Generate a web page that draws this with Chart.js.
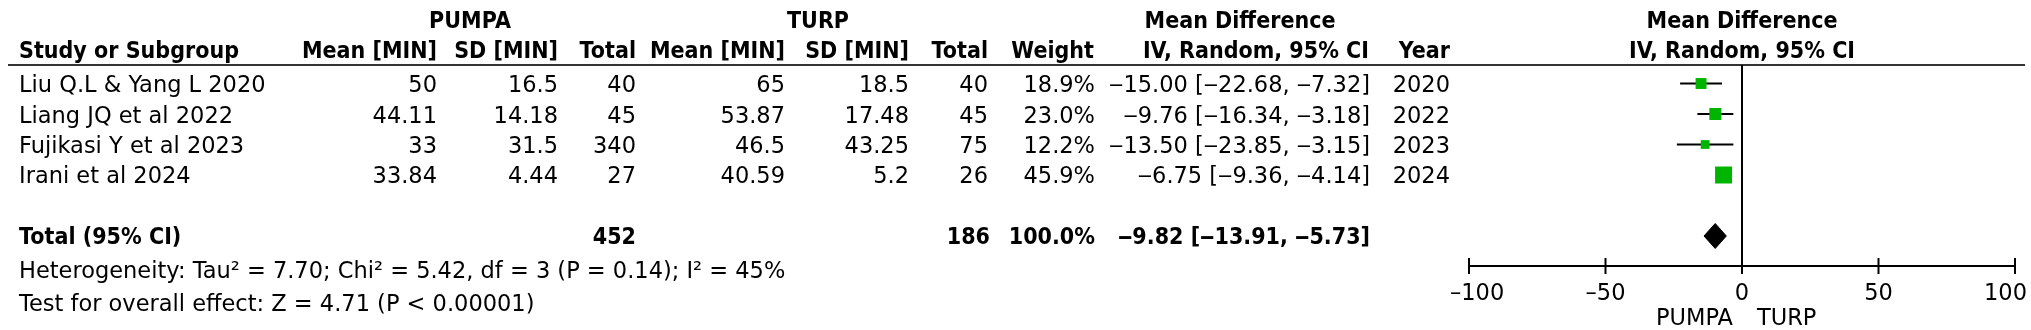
<!DOCTYPE html>
<html>
<head>
<meta charset="utf-8">
<script src="https://cdn.jsdelivr.net/npm/chart.js@4.4.1/dist/chart.umd.min.js"></script>
<style>
html,body{margin:0;padding:0;background:#fff;}
#wrap{width:2031px;height:330px;position:relative;}
canvas{display:block;}
</style>
</head>
<body>
<div id="wrap"><canvas id="c" width="2031" height="330"></canvas></div>
<script>
// ---------- DATA ----------
const studies = ["Liu Q.L & Yang L 2020", "Liang JQ et al 2022", "Fujikasi Y et al 2023", "Irani et al 2024"];
const pumpaMean = [50, 44.11, 33, 33.84];
const pumpaSD = [16.5, 14.18, 31.5, 4.44];
const pumpaTotal = [40, 45, 340, 27];
const turpMean = [65, 53.87, 46.5, 40.59];
const turpSD = [18.5, 17.48, 43.25, 5.2];
const turpTotal = [40, 45, 75, 26];
const weights = [18.9, 23.0, 12.2, 45.9];
const meanDiff = [-15.00, -9.76, -13.50, -6.75];
const ciLow = [-22.68, -16.34, -23.85, -9.36];
const ciHigh = [-7.32, -3.18, -3.15, -4.14];
const years = [2020, 2022, 2023, 2024];
const totalPumpa = 452;
const totalTurp = 186;
const totalWeight = 100.0;
const pooledMD = -9.82;
const pooledLow = -13.91;
const pooledHigh = -5.73;
const heterogeneity = ["Heterogeneity: Tau² = 7.70; Chi² = 5.42, df = 3 (P = 0.14); I² = 45%"];
const overallTest = ["Test for overall effect: Z = 4.71 (P < 0.00001)"];
const xTicks = [-100, -50, 0, 50, 100];
const groupLabels = ["PUMPA", "TURP"];
const totalRow = 5;

// ---------- helpers ----------
const VDASH = "\u2012";
const DASH = "\u2013";
function sgn(v, d) { return (v < 0 ? VDASH : "") + Math.abs(v).toFixed(d); }
function ciText(m, l, h) { return sgn(m, 2) + " [" + sgn(l, 2) + ", " + sgn(h, 2) + "]"; }

const FONT = "22.5px 'DejaVu Sans'";
const BFONT = "bold 22.5px 'DejaVu Sans'";
const BOLD_SX = 0.92;
const GREEN = "#00b400";

// ---------- datasets ----------
const squares = {
  label: "studies",
  data: meanDiff.map((m, i) => ({x: m, y: i})),
  pointStyle: "rect",
  pointRadius: weights.map(w => 17 * Math.sqrt(w / 45.9) / Math.SQRT2),
  pointHoverRadius: weights.map(w => 17 * Math.sqrt(w / 45.9) / Math.SQRT2),
  backgroundColor: GREEN,
  borderWidth: 0,
  showLine: false,
  order: 0
};
const ciSets = studies.map((s, i) => ({
  label: "ci" + i,
  data: [{x: ciLow[i], y: i}, {x: ciHigh[i], y: i}],
  showLine: true,
  borderColor: "#000",
  borderWidth: 2,
  pointRadius: 0,
  order: 2
}));
const dh = 0.41;
const diamond = {
  label: "pooled",
  data: [
    {x: pooledLow, y: totalRow}, {x: pooledMD, y: totalRow - dh},
    {x: pooledHigh, y: totalRow}, {x: pooledMD, y: totalRow + dh},
    {x: pooledLow, y: totalRow}
  ],
  showLine: true,
  fill: "shape",
  backgroundColor: "#000",
  borderColor: "#000",
  borderWidth: 1,
  pointRadius: 0,
  tension: 0,
  order: 1
};

// ---------- text / axis plugin ----------
const forestPlugin = {
  id: "forest",
  afterDraw(chart) {
    const ctx = chart.ctx;
    const xs = chart.scales.x, ys = chart.scales.y;
    const ca = chart.chartArea;
    const x0 = xs.getPixelForValue(0);
    ctx.save();
    ctx.fillStyle = "#000";
    ctx.textBaseline = "alphabetic";
    const T = (t, x, y, align, font) => {
      ctx.save();
      ctx.font = font || FONT;
      ctx.textAlign = align || "left";
      ctx.translate(x, y);
      if (font === BFONT) ctx.scale(BOLD_SX, 1);
      ctx.fillText(t, 0, 0);
      ctx.restore();
    };

    // header line
    ctx.strokeStyle = "#333"; ctx.lineWidth = 2;
    ctx.beginPath(); ctx.moveTo(8, 65); ctx.lineTo(2025, 65); ctx.stroke();

    // group headers
    const gy = 28, hy = 58;
    T(groupLabels[0], 470, gy, "center", BFONT);
    T(groupLabels[1], 818, gy, "center", BFONT);
    T("Mean Difference", 1240, gy, "center", BFONT);
    T("Mean Difference", (ca.left + ca.right) / 2, gy, "center", BFONT);
    // column headers
    T("Study or Subgroup", 19, hy, "left", BFONT);
    T("Mean [MIN]", 437, hy, "right", BFONT);
    T("SD [MIN]", 558, hy, "right", BFONT);
    T("Total", 636, hy, "right", BFONT);
    T("Mean [MIN]", 785, hy, "right", BFONT);
    T("SD [MIN]", 909, hy, "right", BFONT);
    T("Total", 988, hy, "right", BFONT);
    T("Weight", 1094, hy, "right", BFONT);
    T("IV, Random, 95% CI", 1369, hy, "right", BFONT);
    T("Year", 1450, hy, "right", BFONT);
    T("IV, Random, 95% CI", (ca.left + ca.right) / 2, hy, "center", BFONT);

    // study rows
    studies.forEach((s, i) => {
      const y = ys.getPixelForValue(i) + 8.5;
      T(s, 19, y, "left");
      T(String(pumpaMean[i]), 437, y, "right");
      T(String(pumpaSD[i]), 558, y, "right");
      T(String(pumpaTotal[i]), 636, y, "right");
      T(String(turpMean[i]), 785, y, "right");
      T(String(turpSD[i]), 909, y, "right");
      T(String(turpTotal[i]), 988, y, "right");
      T(weights[i].toFixed(1) + "%", 1095, y, "right");
      T(ciText(meanDiff[i], ciLow[i], ciHigh[i]), 1370, y, "right");
      T(String(years[i]), 1450, y, "right");
    });
    // total row
    const ty = ys.getPixelForValue(totalRow) + 8;
    T("Total (95% CI)", 19, ty, "left", BFONT);
    T(String(totalPumpa), 636, ty, "right", BFONT);
    T(String(totalTurp), 990, ty, "right", BFONT);
    T(totalWeight.toFixed(1) + "%", 1095, ty, "right", BFONT);
    T(ciText(pooledMD, pooledLow, pooledHigh), 1370, ty, "right", BFONT);
    // footer
    T(heterogeneity[0], 19, 278, "left");
    T(overallTest[0], 19, 311, "left");

    // zero line
    const axY = ca.bottom;
    ctx.strokeStyle = "#000"; ctx.lineWidth = 2;
    ctx.beginPath(); ctx.moveTo(x0, 65); ctx.lineTo(x0, axY); ctx.stroke();
    // axis
    const xl = xs.getPixelForValue(xTicks[0]), xr = xs.getPixelForValue(xTicks[xTicks.length - 1]);
    ctx.beginPath(); ctx.moveTo(xl, axY); ctx.lineTo(xr, axY); ctx.stroke();
    xTicks.forEach(v => {
      const px = xs.getPixelForValue(v);
      ctx.beginPath(); ctx.moveTo(px, axY - 8); ctx.lineTo(px, axY + 8); ctx.stroke();
      const lbl = (v < 0 ? DASH : "") + Math.abs(v);
      ctx.font = FONT;
      const w = ctx.measureText(lbl).width;
      const cx = Math.min(Math.max(px, 1450 + w / 2), 2027 - w / 2);
      T(lbl, cx, 300, "center");
    });
    T(groupLabels[0], x0 - 9, 325, "right");
    T(groupLabels[1], x0 + 15, 325, "left");
    ctx.restore();
  }
};

const chart = new Chart(document.getElementById("c"), {
  type: "scatter",
  data: { datasets: [squares, diamond, ...ciSets] },
  options: {
    responsive: false,
    animation: false,
    devicePixelRatio: 1,
    layout: { padding: { left: 1469, right: 16, top: 65, bottom: 64 } },
    plugins: { legend: { display: false }, tooltip: { enabled: false } },
    scales: {
      x: { type: "linear", min: -100, max: 100, display: false },
      y: { type: "linear", min: -0.607, max: 5.984, reverse: true, display: false }
    }
  },
  plugins: [forestPlugin]
});
</script>
</body>
</html>
